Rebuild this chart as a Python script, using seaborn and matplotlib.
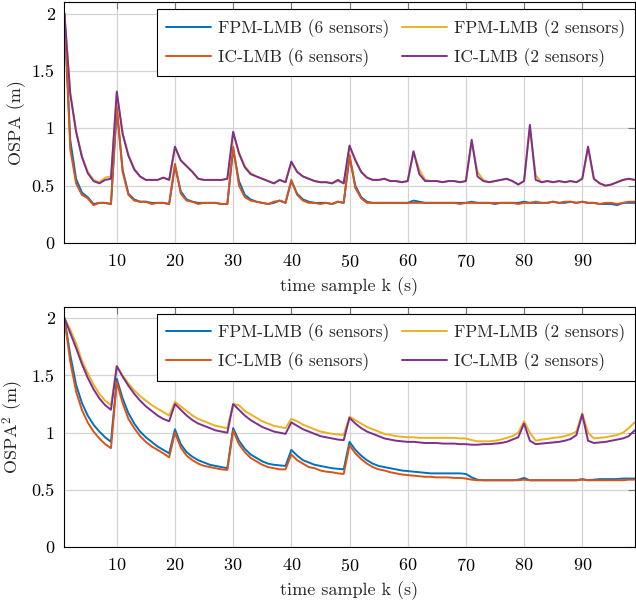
import matplotlib.pyplot as plt
import numpy as np
import pandas as pd
import seaborn as sns

# time samples and series values
time_k = np.arange(1, 100)

ospa_fpm6 = [
    2.00, 0.90, 0.56, 0.44, 0.40, 0.34, 0.35, 0.35, 0.34, 1.17,
    0.64, 0.43, 0.38, 0.36, 0.36, 0.35, 0.35, 0.35, 0.34, 0.67,
    0.45, 0.38, 0.36, 0.35, 0.35, 0.35, 0.35, 0.34, 0.34, 0.82,
    0.54, 0.42, 0.38, 0.36, 0.35, 0.34, 0.35, 0.37, 0.35, 0.54,
    0.43, 0.38, 0.36, 0.35, 0.35, 0.35, 0.34, 0.36, 0.35, 0.75,
    0.50, 0.40, 0.36, 0.35, 0.35, 0.35, 0.35, 0.35, 0.35, 0.35,
    0.37, 0.36, 0.35, 0.35, 0.35, 0.35, 0.35, 0.35, 0.35, 0.35,
    0.36, 0.35, 0.35, 0.35, 0.34, 0.35, 0.35, 0.35, 0.35, 0.36,
    0.35, 0.35, 0.35, 0.35, 0.36, 0.35, 0.35, 0.36, 0.35, 0.36,
    0.35, 0.35, 0.34, 0.34, 0.34, 0.33, 0.35, 0.35, 0.35,
]
ospa_ic6 = [
    2.00, 0.82, 0.52, 0.42, 0.39, 0.33, 0.35, 0.35, 0.34, 1.19,
    0.62, 0.42, 0.37, 0.36, 0.36, 0.34, 0.35, 0.35, 0.34, 0.69,
    0.43, 0.37, 0.36, 0.34, 0.35, 0.35, 0.35, 0.34, 0.34, 0.84,
    0.50, 0.40, 0.37, 0.36, 0.35, 0.34, 0.36, 0.37, 0.35, 0.55,
    0.42, 0.37, 0.35, 0.35, 0.34, 0.35, 0.34, 0.36, 0.35, 0.77,
    0.48, 0.39, 0.35, 0.35, 0.35, 0.35, 0.35, 0.35, 0.35, 0.35,
    0.35, 0.35, 0.35, 0.35, 0.35, 0.35, 0.35, 0.35, 0.34, 0.35,
    0.35, 0.35, 0.35, 0.35, 0.35, 0.35, 0.35, 0.35, 0.34, 0.35,
    0.35, 0.36, 0.35, 0.35, 0.36, 0.35, 0.36, 0.36, 0.35, 0.36,
    0.35, 0.35, 0.34, 0.35, 0.35, 0.34, 0.35, 0.36, 0.36,
]
ospa_fpm2 = [
    2.00, 1.31, 0.98, 0.76, 0.62, 0.55, 0.53, 0.57, 0.58, 1.30,
    0.96, 0.77, 0.65, 0.58, 0.55, 0.55, 0.55, 0.57, 0.55, 0.83,
    0.72, 0.67, 0.62, 0.56, 0.55, 0.55, 0.55, 0.55, 0.56, 0.96,
    0.79, 0.67, 0.61, 0.58, 0.56, 0.54, 0.52, 0.55, 0.53, 0.70,
    0.62, 0.58, 0.56, 0.54, 0.53, 0.53, 0.52, 0.54, 0.52, 0.84,
    0.73, 0.62, 0.57, 0.55, 0.55, 0.56, 0.54, 0.54, 0.53, 0.54,
    0.79, 0.64, 0.55, 0.54, 0.54, 0.53, 0.54, 0.54, 0.53, 0.54,
    0.88, 0.62, 0.55, 0.53, 0.54, 0.55, 0.56, 0.54, 0.51, 0.54,
    1.00, 0.59, 0.53, 0.54, 0.53, 0.54, 0.53, 0.54, 0.53, 0.56,
    0.83, 0.56, 0.52, 0.50, 0.51, 0.53, 0.55, 0.56, 0.55,
]
ospa_ic2 = [
    2.00, 1.30, 0.97, 0.75, 0.61, 0.54, 0.52, 0.55, 0.56, 1.32,
    0.95, 0.76, 0.64, 0.58, 0.55, 0.55, 0.55, 0.57, 0.55, 0.84,
    0.72, 0.67, 0.62, 0.56, 0.55, 0.55, 0.55, 0.55, 0.56, 0.97,
    0.78, 0.66, 0.60, 0.58, 0.56, 0.54, 0.52, 0.55, 0.53, 0.71,
    0.62, 0.58, 0.56, 0.54, 0.53, 0.53, 0.52, 0.55, 0.52, 0.85,
    0.72, 0.62, 0.57, 0.55, 0.55, 0.56, 0.54, 0.54, 0.53, 0.54,
    0.80, 0.60, 0.54, 0.54, 0.54, 0.53, 0.54, 0.54, 0.53, 0.54,
    0.90, 0.58, 0.54, 0.53, 0.54, 0.55, 0.56, 0.54, 0.51, 0.54,
    1.03, 0.55, 0.53, 0.54, 0.53, 0.54, 0.53, 0.54, 0.53, 0.56,
    0.84, 0.56, 0.52, 0.50, 0.51, 0.53, 0.55, 0.56, 0.55,
]

ospa2_fpm6 = [
    2.00, 1.68, 1.42, 1.26, 1.15, 1.07, 1.01, 0.96, 0.92, 1.47,
    1.30, 1.17, 1.08, 1.01, 0.96, 0.92, 0.88, 0.85, 0.82, 1.03,
    0.90, 0.83, 0.79, 0.76, 0.74, 0.72, 0.71, 0.70, 0.69, 1.04,
    0.93, 0.86, 0.81, 0.78, 0.75, 0.73, 0.72, 0.715, 0.71, 0.85,
    0.80, 0.76, 0.74, 0.72, 0.71, 0.70, 0.69, 0.685, 0.68, 0.92,
    0.85, 0.80, 0.76, 0.73, 0.71, 0.70, 0.69, 0.68, 0.67, 0.665,
    0.66, 0.655, 0.65, 0.645, 0.645, 0.645, 0.645, 0.645, 0.645, 0.64,
    0.61, 0.59, 0.585, 0.585, 0.585, 0.585, 0.585, 0.585, 0.59, 0.605,
    0.585, 0.585, 0.585, 0.585, 0.585, 0.585, 0.585, 0.585, 0.585, 0.595,
    0.585, 0.59, 0.595, 0.595, 0.595, 0.595, 0.60, 0.60, 0.60,
]
ospa2_ic6 = [
    2.00, 1.62, 1.36, 1.20, 1.09, 1.01, 0.95, 0.90, 0.865, 1.44,
    1.26, 1.12, 1.04, 0.97, 0.92, 0.88, 0.85, 0.82, 0.785, 1.00,
    0.87, 0.80, 0.76, 0.73, 0.71, 0.70, 0.69, 0.68, 0.675, 1.02,
    0.90, 0.83, 0.78, 0.75, 0.72, 0.70, 0.69, 0.68, 0.68, 0.81,
    0.76, 0.73, 0.70, 0.69, 0.67, 0.66, 0.655, 0.645, 0.64, 0.89,
    0.82, 0.77, 0.73, 0.70, 0.68, 0.67, 0.655, 0.645, 0.635, 0.63,
    0.625, 0.62, 0.615, 0.615, 0.61, 0.61, 0.61, 0.605, 0.605, 0.60,
    0.59, 0.585, 0.585, 0.585, 0.585, 0.585, 0.585, 0.585, 0.585, 0.59,
    0.585, 0.585, 0.585, 0.585, 0.585, 0.585, 0.585, 0.585, 0.585, 0.59,
    0.585, 0.585, 0.585, 0.585, 0.585, 0.585, 0.585, 0.59, 0.59,
]
ospa2_fpm2 = [
    2.00, 1.90, 1.78, 1.63, 1.52, 1.42, 1.34, 1.28, 1.24, 1.58,
    1.50, 1.43, 1.37, 1.32, 1.28, 1.24, 1.21, 1.18, 1.15, 1.27,
    1.23, 1.19, 1.15, 1.12, 1.10, 1.08, 1.06, 1.05, 1.04, 1.25,
    1.24, 1.19, 1.16, 1.13, 1.10, 1.08, 1.06, 1.05, 1.04, 1.12,
    1.10, 1.07, 1.05, 1.03, 1.01, 1.00, 0.99, 0.985, 0.98, 1.14,
    1.11, 1.08, 1.05, 1.03, 1.01, 0.99, 0.98, 0.97, 0.965, 0.96,
    0.96, 0.955, 0.955, 0.955, 0.955, 0.955, 0.955, 0.955, 0.95, 0.95,
    0.935, 0.925, 0.925, 0.925, 0.93, 0.94, 0.955, 0.97, 1.00, 1.10,
    1.00, 0.93, 0.94, 0.945, 0.955, 0.96, 0.97, 0.985, 1.01, 1.17,
    1.00, 0.95, 0.955, 0.96, 0.97, 0.98, 1.00, 1.04, 1.09,
]
ospa2_ic2 = [
    2.00, 1.87, 1.74, 1.60, 1.48, 1.38, 1.30, 1.24, 1.20, 1.58,
    1.49, 1.41, 1.34, 1.28, 1.23, 1.19, 1.15, 1.12, 1.10, 1.25,
    1.20, 1.15, 1.11, 1.08, 1.06, 1.04, 1.02, 1.01, 1.00, 1.25,
    1.20, 1.15, 1.11, 1.08, 1.05, 1.03, 1.01, 1.00, 0.99, 1.09,
    1.06, 1.03, 1.01, 0.99, 0.97, 0.96, 0.95, 0.94, 0.935, 1.13,
    1.08, 1.04, 1.01, 0.99, 0.97, 0.95, 0.94, 0.93, 0.925, 0.92,
    0.92, 0.915, 0.91, 0.91, 0.91, 0.905, 0.905, 0.905, 0.90, 0.90,
    0.895, 0.895, 0.90, 0.90, 0.905, 0.91, 0.92, 0.94, 0.96, 1.08,
    0.93, 0.90, 0.905, 0.91, 0.915, 0.92, 0.93, 0.945, 0.98, 1.16,
    0.93, 0.91, 0.915, 0.92, 0.93, 0.94, 0.95, 0.97, 1.02,
]

# legend order is column-wise: FPM 6, IC 6 | FPM 2, IC 2
methods = ["FPM-LMB (6 sensors)", "IC-LMB (6 sensors)", "FPM-LMB (2 sensors)", "IC-LMB (2 sensors)"]
colors = ["#0072BD", "#D95319", "#EDB120", "#7E2F8E"]
x_ticks = [10, 20, 30, 40, 50, 60, 70, 80, 90]
y_ticks = [0, 0.5, 1, 1.5, 2]
y_tick_labels = ["0", "0.5", "1", "1.5", "2"]

sns.set_theme(style="whitegrid")
plt.rcParams["font.family"] = ["cmr10", "DejaVu Serif"]
plt.rcParams["mathtext.fontset"] = "cm"
plt.rcParams["axes.formatter.use_mathtext"] = True
plt.rcParams["axes.unicode_minus"] = False


def to_long(series):
    frames = [pd.DataFrame({"k": time_k, "value": vals, "method": name}) for name, vals in zip(methods, series)]
    return pd.concat(frames, ignore_index=True)


top_df = to_long([ospa_fpm6, ospa_ic6, ospa_fpm2, ospa_ic2])
bottom_df = to_long([ospa2_fpm6, ospa2_ic6, ospa2_fpm2, ospa2_ic2])

fig = plt.figure(figsize=(6.36, 6.02), dpi=100)
ax_top = fig.add_axes([0.1013, 0.5963, 0.8965, 0.4003])
ax_bot = fig.add_axes([0.1013, 0.0909, 0.8965, 0.3997])

for ax, df, ylabel in [(ax_top, top_df, "OSPA (m)"), (ax_bot, bottom_df, r"OSPA$^2$ (m)")]:
    sns.lineplot(data=df, x="k", y="value", hue="method", hue_order=methods,
                 palette=colors, estimator=None, linewidth=1.4, ax=ax)
    ax.set_xlim(1, 99)
    ax.set_ylim(0, 2.1)
    ax.set_xticks(x_ticks)
    ax.set_yticks(y_ticks, labels=y_tick_labels)
    ax.set_facecolor("white")
    ax.grid(True, color="#d4d4d4", linewidth=0.9)
    for spine in ax.spines.values():
        spine.set_color("black")
        spine.set_linewidth(0.8)
    ax.tick_params(direction="in", length=5, width=0.8, color="0.45", top=True, right=True,
                   pad=7, labelsize=13, labelcolor="black")
    ax.set_xlabel("time sample k (s)", fontsize=13, labelpad=5.5)
    ax.set_ylabel(ylabel, fontsize=13, labelpad=4)
    handles, labels = ax.get_legend_handles_labels()
    ax.legend(handles, labels, ncol=2, loc="upper right", bbox_to_anchor=(1.0, 0.97),
              borderaxespad=0, fontsize=12.5, frameon=True, fancybox=False, framealpha=1,
              edgecolor="black", handlelength=2.6, handletextpad=0.4, columnspacing=0.7,
              labelspacing=0.6, borderpad=0.55)
    ax.get_legend().get_frame().set_linewidth(0.8)

fig.savefig("out.png", dpi=100)
plt.close(fig)
